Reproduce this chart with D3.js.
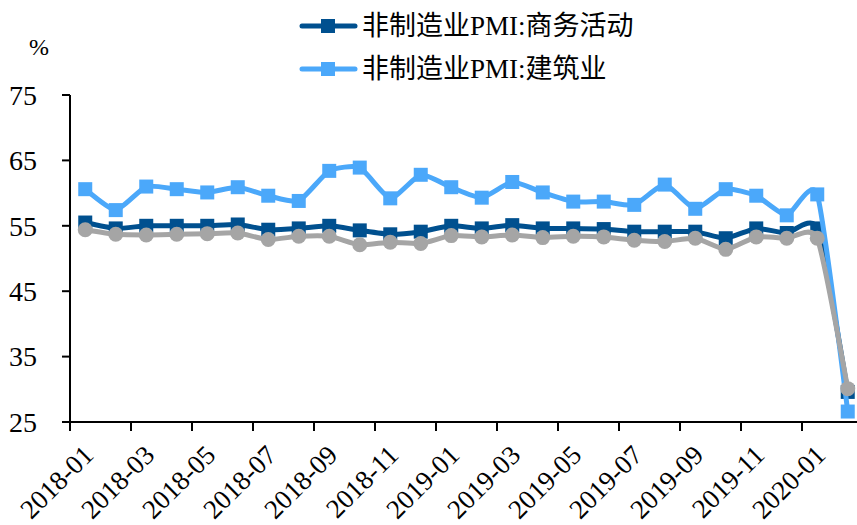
<!DOCTYPE html>
<html>
<head>
<meta charset="utf-8">
<script src="https://cdn.jsdelivr.net/npm/d3@7"></script>
<style>
  body { margin: 0; background: #fff; }
  svg text { font-family: "Liberation Serif", "Noto Sans CJK SC", serif; fill: #000; }
</style>
</head>
<body>
<div id="chart"></div>
<script>
var months = ["2018-01","2018-02","2018-03","2018-04","2018-05","2018-06","2018-07","2018-08","2018-09","2018-10","2018-11","2018-12",
              "2019-01","2019-02","2019-03","2019-04","2019-05","2019-06","2019-07","2019-08","2019-09","2019-10","2019-11","2019-12",
              "2020-01","2020-02"];
var business = [55.5,54.6,55.0,55.0,55.0,55.2,54.4,54.6,55.0,54.3,53.7,54.1,55.0,54.6,55.1,54.6,54.6,54.5,54.1,54.1,54.1,53.1,54.6,53.9,54.6,29.6];
var construction = [60.6,57.4,61.0,60.6,60.1,60.9,59.6,58.8,63.4,63.9,59.2,62.8,60.9,59.3,61.7,60.1,58.7,58.7,58.2,61.3,57.6,60.6,59.6,56.6,59.8,26.6];
var services = [54.4,53.7,53.6,53.7,53.8,53.9,52.9,53.4,53.4,52.1,52.5,52.3,53.5,53.3,53.6,53.2,53.4,53.3,52.8,52.6,53.1,51.4,53.3,53.1,53.1,30.1];
var yTicks = [25,35,45,55,65,75];
var legendNames = ["非制造业PMI:商务活动","非制造业PMI:建筑业"];

var width = 857, height = 525,
    plotLeft = 70, plotRight = 863, plotTop = 95, plotBottom = 422;

var svg = d3.select("#chart").append("svg")
    .attr("width", width)
    .attr("height", height);

var x = d3.scaleBand()
    .domain(months)
    .range([plotLeft, plotRight])
    .padding(0);

var y = d3.scaleLinear()
    .domain([25, 75])
    .range([plotBottom, plotTop]);

// axes
svg.append("line")
    .attr("x1", plotLeft).attr("x2", plotLeft)
    .attr("y1", y(75)).attr("y2", plotBottom + 8)
    .attr("stroke", "#000").attr("stroke-width", 2);

svg.selectAll(".ytick")
    .data(yTicks)
    .enter()
    .append("line")
    .attr("x1", plotLeft - 8).attr("x2", plotLeft)
    .attr("y1", function(d) { return y(d) })
    .attr("y2", function(d) { return y(d) })
    .attr("stroke", "#000").attr("stroke-width", 2);

svg.selectAll(".ylabel")
    .data(yTicks)
    .enter()
    .append("text")
    .attr("x", 37)
    .attr("y", function(d) { return y(d) })
    .attr("dy", "0.35em")
    .attr("text-anchor", "end")
    .style("font-size", "28px")
    .text(function(d) { return d });

svg.append("text")
    .attr("x", 39).attr("y", 47)
    .attr("dy", "0.35em")
    .attr("text-anchor", "middle")
    .style("font-size", "24px")
    .text("%");

var labelled = months.filter(function(d, i) { return i % 2 == 0 });

svg.append("line")
    .attr("x1", plotLeft - 8).attr("x2", width)
    .attr("y1", plotBottom).attr("y2", plotBottom)
    .attr("stroke", "#000").attr("stroke-width", 2);

svg.selectAll(".xtick")
    .data(labelled)
    .enter()
    .append("line")
    .attr("x1", function(d) { return x(d) })
    .attr("x2", function(d) { return x(d) })
    .attr("y1", plotBottom).attr("y2", plotBottom + 9)
    .attr("stroke", "#000").attr("stroke-width", 2);

svg.selectAll(".xlabel")
    .data(labelled)
    .enter()
    .append("text")
    .attr("transform", function(d) {
        return "translate(" + (x(d) + x.bandwidth() / 2 + 3) + "," + 450 + ") rotate(-45)";
    })
    .attr("dy", "0.35em")
    .attr("text-anchor", "end")
    .style("font-size", "27px")
    .text(function(d) { return d });

// series
var series = [
    {name: legendNames[0], values: business, color: "#00508F", shape: "square"},
    {name: legendNames[1], values: construction, color: "#4BA8FA", shape: "square"},
    {name: "服务业", values: services, color: "#A5A5A5", shape: "circle"}
];

var line = d3.line()
    .x(function(d, i) { return x(months[i]) + x.bandwidth() / 2 })
    .y(function(d) { return y(d) })
    .curve(d3.curveCardinal.tension(0.45));

series.forEach(function(s) {
    svg.append("path")
        .datum(s.values)
        .attr("d", line)
        .attr("fill", "none")
        .attr("stroke", s.color)
        .attr("stroke-width", 5)
        .attr("stroke-linejoin", "round");

    if (s.shape == "square") {
        svg.selectAll(null)
            .data(s.values)
            .enter()
            .append("rect")
            .attr("x", function(d, i) { return x(months[i]) + x.bandwidth() / 2 - 7 })
            .attr("y", function(d) { return y(d) - 7 })
            .attr("width", 14)
            .attr("height", 14)
            .attr("fill", s.color);
    } else {
        svg.selectAll(null)
            .data(s.values)
            .enter()
            .append("circle")
            .attr("cx", function(d, i) { return x(months[i]) + x.bandwidth() / 2 })
            .attr("cy", function(d) { return y(d) })
            .attr("r", 7.5)
            .attr("fill", s.color);
    }
});

// legend
var legend = svg.selectAll(".legend")
    .data(series.slice(0, 2))
    .enter()
    .append("g")
    .attr("transform", function(d, i) { return "translate(300," + (26 + i * 43) + ")" });

legend.append("line")
    .attr("x1", 2).attr("x2", 55)
    .attr("stroke", function(d) { return d.color })
    .attr("stroke-width", 5)
    .attr("stroke-linecap", "round");

legend.append("rect")
    .attr("x", 21).attr("y", -7)
    .attr("width", 14).attr("height", 14)
    .attr("fill", function(d) { return d.color });

legend.append("text")
    .attr("x", 62)
    .attr("dy", "0.35em")
    .style("font-size", "27px")
    .text(function(d) { return d.name });
</script>
</body>
</html>
